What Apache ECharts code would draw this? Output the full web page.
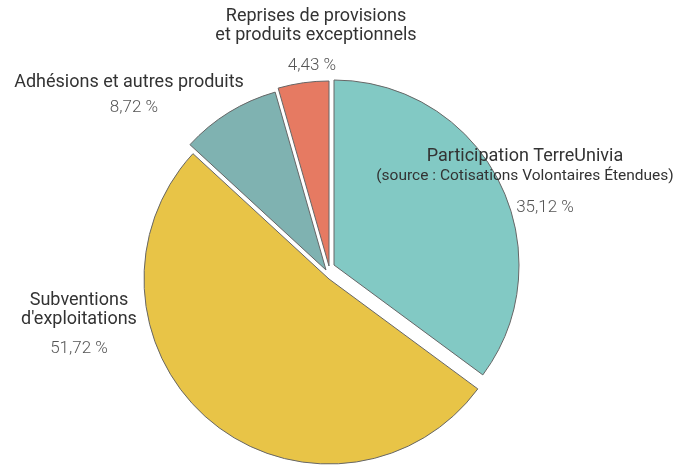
<!DOCTYPE html>
<html>
<head>
<meta charset="utf-8">
<script src="https://cdn.jsdelivr.net/npm/echarts@6/dist/echarts.min.js"></script>
<style>
  html, body { margin: 0; padding: 0; background: #fff; }
  #pie-chart { width: 693px; height: 469px; }
</style>
</head>
<body>
<div id="pie-chart"></div>
<script>
// slices, clockwise from the top
var categories = [
    'Participation TerreUnivia',
    "Subventions\nd'exploitations",
    'Adhésions et autres produits',
    'Reprises de provisions\net produits exceptionnels'
];
var notes = ['(source : Cotisations Volontaires Étendues)', '', '', ''];
var values = [35.12, 51.72, 8.72, 4.43];

var colors = ['#82c9c4', '#e8c447', '#7fb2b1', '#e67a62'];
// each slice is pulled out a little differently
var centers = [[334, 265], [329, 279], [326, 270], [329, 266]];
// label block: center x, top y, shift of the % line, % line height
var labelAnchors = [[525, 147, 40, 42], [79, 291, 0, 39], [129, 73, 10, 32], [316, 7, -8, 42]];

var configureChart = function() {
    let chart = echarts.init(document.getElementById('pie-chart'));
    let total = values.reduce(function(a, b) { return a + b; }, 0);

    function pct(v) {
        return v.toFixed(2).replace('.', ',') + ' %';
    }

    let series = [];
    let cum = 0;
    for (let i = 0; i < values.length; i++) {
        let anchor = labelAnchors[i];
        let shift = anchor[2];
        let text = categories[i].split('\n').map(function(l) { return '{n|' + l + '}'; });
        if (notes[i]) text.push('{s|' + notes[i] + '}');
        text.push('{p|' + pct(values[i]) + '}');
        let label = text.join('\n');

        series.push({
            type: 'pie',
            center: centers[i],
            radius: 185,
            startAngle: 90 - 360 * cum / total,
            clockwise: true,
            animation: false,
            avoidLabelOverlap: false,
            label: {
                show: true,
                position: 'center',
                formatter: function() { return label; },
                fontFamily: 'Roboto',
                rich: {
                    n: { fontSize: 18, lineHeight: 19, color: '#333', fontFamily: 'Roboto' },
                    s: { fontSize: 15.5, lineHeight: 21, color: '#333', fontFamily: 'Roboto' },
                    p: {
                        fontSize: 17, lineHeight: anchor[3], color: '#555', fontWeight: 300, fontFamily: 'Roboto',
                        padding: shift >= 0 ? [0, 0, 0, shift] : [0, -shift, 0, 0]
                    }
                }
            },
            labelLine: { show: false },
            labelLayout: {
                x: anchor[0], y: anchor[1], align: 'center', verticalAlign: 'top',
                hideOverlap: false, moveOverlap: null
            },
            data: [
                {
                    name: categories[i],
                    value: values[i],
                    itemStyle: { color: colors[i], borderColor: '#666', borderWidth: 1 }
                },
                {
                    name: '',
                    value: total - values[i],
                    itemStyle: { color: 'rgba(0,0,0,0)', borderWidth: 0 },
                    label: { show: false },
                    labelLine: { show: false },
                    emphasis: { disabled: true }
                }
            ]
        });
        cum += values[i];
    }

    chart.setOption({ series: series });
};

configureChart();
</script>
</body>
</html>
